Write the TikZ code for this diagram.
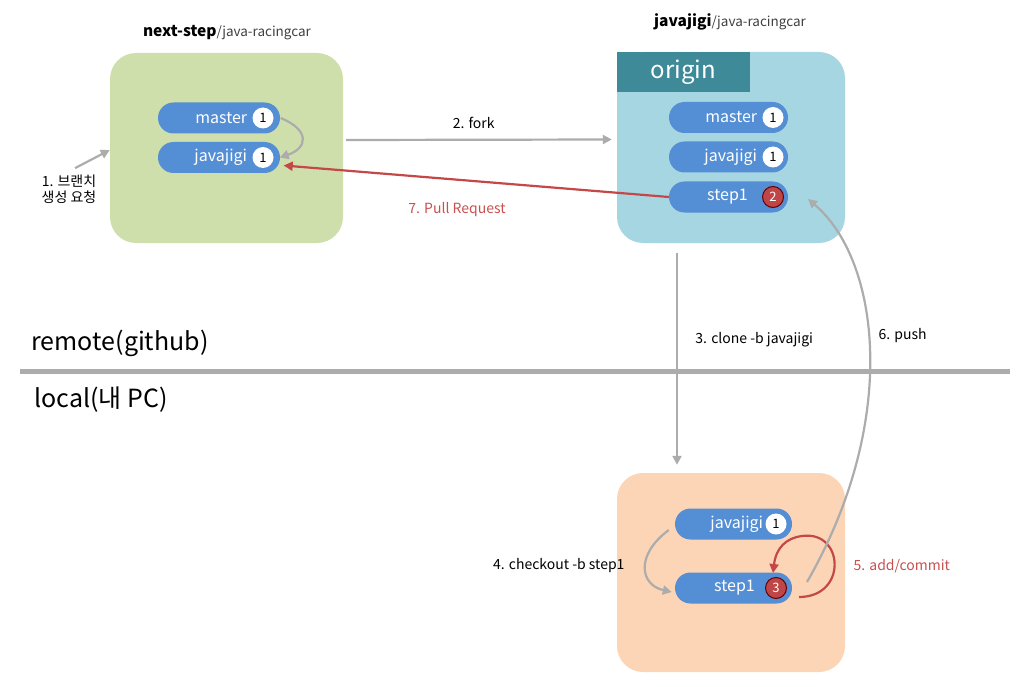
\documentclass[tikz,border=0pt]{standalone}
\usepackage{fontspec}
\setmainfont{Noto Sans CJK KR}
\usetikzlibrary{arrows.meta}
\definecolor{greenbg}{RGB}{207,223,172}
\definecolor{bluebg}{RGB}{166,214,226}
\definecolor{originbg}{RGB}{62,138,153}
\definecolor{orangebg}{RGB}{251,213,181}
\definecolor{pillblue}{RGB}{84,142,212}
\definecolor{badgered}{RGB}{190,70,70}
\definecolor{redline}{RGB}{196,72,72}
\definecolor{redtext}{RGB}{200,80,80}
\definecolor{grayline}{RGB}{172,172,172}
\tikzset{
  repobox/.style={rounded corners=26pt, minimum width=230pt, draw=none},
  pill/.style={rounded corners=15.5pt, minimum height=31pt, fill=pillblue, draw=none},
  pilltext/.style={text=white, font=\fontsize{16}{16}\selectfont, anchor=east, inner sep=0pt},
  badge/.style={circle, fill=white, minimum size=21pt, inner sep=0pt, font=\fontsize{13}{13}\selectfont},
  redbadge/.style={circle, fill=badgered, draw=red!40!black, line width=1pt, text=white, minimum size=21pt, inner sep=0pt, font=\fontsize{13}{13}\selectfont},
  grayarr/.style={-{Triangle[length=9pt,width=9pt]}, draw=grayline, line width=2.2pt},
  redarr/.style={-{Triangle[length=9pt,width=9pt]}, draw=redline, line width=2.2pt},
  steplabel/.style={font=\fontsize{14}{16}\selectfont, align=center},
  sidelabel/.style={font=\fontsize{25}{25}\selectfont, anchor=west},
}
\begin{document}
\begin{tikzpicture}[x=1pt, y=-1pt]
\useasboundingbox (0,0) rectangle (1027,687);
% repositories
\node[repobox, fill=greenbg, minimum width=233pt, minimum height=190pt] (gbox) at (226.5,148) {};
\node[repobox, fill=bluebg, minimum width=228pt, minimum height=191pt] (bbox) at (731,147.5) {};
\node[fill=originbg, minimum width=133pt, minimum height=40pt, inner sep=0pt] (orig) at (683.5,72) {};
\node[text=white, font=\fontsize{24}{24}\selectfont] at (orig) {origin};
\node[repobox, fill=orangebg, minimum width=228pt, minimum height=199pt] (obox) at (731,572.5) {};
% titles
\node (gtitle) at (227,33) {\fontsize{15.5}{15.5}\selectfont\bfseries next-step\fontsize{13.5}{13.5}\mdseries\selectfont\color{black!75}/java-racingcar};
\node (btitle) at (730,22) {\fontsize{15.5}{15.5}\selectfont\bfseries javajigi\fontsize{13.5}{13.5}\mdseries\selectfont\color{black!75}/java-racingcar};
% next-step branches
\node[pill, minimum width=122pt] (gmaster) at (219,118) {};
\node[badge] (gmasterN) at (263,118) {1};
\node[pilltext] at ([xshift=-5pt]gmasterN.west) {master};
\node[pill, minimum width=122pt] (gjava) at (219,157.5) {};
\node[badge] (gjavaN) at (263,157.5) {1};
\node[pilltext] at ([xshift=-5pt]gjavaN.west) {javajigi};
% javajigi branches
\node[pill, minimum width=119pt] (bmaster) at (728.5,117.5) {};
\node[badge] (bmasterN) at (773,117.5) {1};
\node[pilltext] at ([xshift=-5pt]bmasterN.west) {master};
\node[pill, minimum width=119pt] (bjava) at (728.5,157) {};
\node[badge] (bjavaN) at (773,157) {1};
\node[pilltext] at ([xshift=-5pt]bjavaN.west) {javajigi};
\node[pill, minimum width=119pt] (bstep) at (728.5,197) {};
\node[redbadge] (bstepN) at (773,197) {2};
\node[pilltext] at ([xshift=-14pt]bstepN.west) {step1};
% local branches
\node[pill, minimum width=117pt] (ljava) at (733.5,524) {};
\node[badge] (ljavaN) at (776,524) {1};
\node[pilltext] at ([xshift=-2pt]ljavaN.west) {javajigi};
\node[pill, minimum width=117pt] (lstep) at (733.5,588) {};
\node[redbadge] (lstepN) at (776,588) {3};
\node[pilltext] at ([xshift=-10pt]lstepN.west) {step1};
% remote / local
\draw[draw=grayline, line width=5pt] (20,371) coordinate (sepL) -- (1010,371) coordinate (sepR);
\node[sidelabel] (remote) at (28,343) {remote(github)};
\node[sidelabel] (local) at (31,400) {local(내 PC)};
% steps
\node[steplabel] (s1) at (69,189) {1. 브랜치\\생성 요청};
\draw[grayarr] ([shift={(6,-3)}]s1.north) -- ([shift={(0,2)}]gbox.west);
\draw[grayarr] ([shift={(7,0)}]gmasterN.east) .. controls (310,130) and (308,148) .. ([shift={(6,0)}]gjavaN.east);
\draw[grayarr] ([shift={(3,-8)}]gbox.east) -- node[steplabel, pos=0.48, above=7pt] {2. fork} ([shift={(-5,-8)}]bbox.west);
\draw[grayarr] ([shift={(-54,10)}]bbox.south) -- node[steplabel, pos=0.41, right=14pt] {3. clone -b javajigi} ([shift={(-54,-8)}]obox.north);
\draw[grayarr] ([shift={(-6,6)}]ljava.west) .. controls (635,555) and (640,585) .. ([shift={(-3,4)}]lstep.west);
\node[steplabel, anchor=east] (s4) at (628,566) {4. checkout -b step1};
\draw[redarr] ([shift={(12,9)}]lstepN.east) .. controls (848,597) and (844,530) .. (802,536) .. controls (786,538) and (776,548) .. ([shift={(-3,-4)}]lstepN.north);
\node[steplabel, text=redtext, anchor=west] (s5) at (850,566) {5. add/commit};
\draw[grayarr] ([shift={(20,-6)}]lstepN.east) .. controls (900,420) and (880,260) .. ([shift={(24,2)}]bstepN.east);
\node[steplabel, anchor=west] (s6) at (875,336) {6. push};
\draw[redarr] (bstep.west) -- node[steplabel, text=redtext, pos=0.55, below=18pt] {7. Pull Request} ([shift={(10,8)}]gjavaN.east);
\end{tikzpicture}
\end{document}
